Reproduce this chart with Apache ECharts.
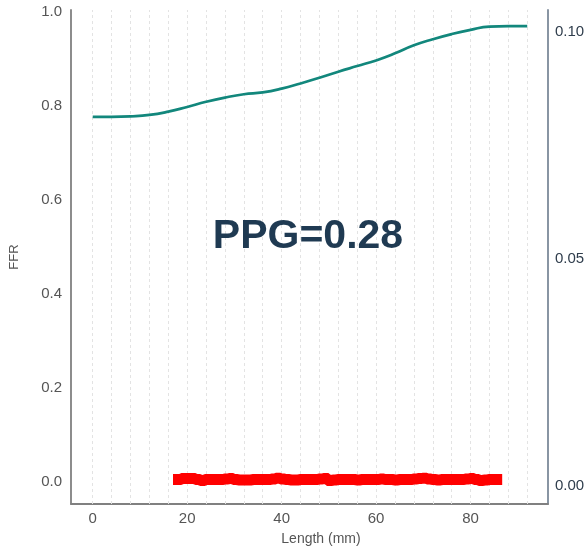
<!DOCTYPE html>
<html>
<head>
<meta charset="utf-8">
<script src="https://cdn.jsdelivr.net/npm/echarts@6/dist/echarts.min.js"></script>
<style>
  html, body { margin: 0; padding: 0; background: #fff; }
  #chart { width: 588px; height: 551px; }
</style>
</head>
<body>
<div id="chart"></div>
<script>
// FFR pullback along the vessel (mm), sampled every 4 mm
const lengthMm = [0, 4, 8, 12, 16, 20, 24, 28, 32, 36, 40, 44, 48, 52, 56, 60, 64, 68, 72, 76, 80, 84, 88, 92];
const ffr = [0.777, 0.777, 0.778, 0.781, 0.788, 0.798, 0.809, 0.818, 0.825, 0.829, 0.837, 0.848,
             0.860, 0.873, 0.885, 0.897, 0.912, 0.929, 0.942, 0.953, 0.962, 0.969, 0.970, 0.970];

// Pressure gradient per mm (right axis)
const gradX = [17, 18, 19, 20, 21, 22, 23, 24, 25, 26, 27, 28, 29, 30, 31, 32, 33, 34, 35, 36, 37, 38,
               39, 40, 41, 42, 43, 44, 45, 46, 47, 48, 49, 50, 51, 52, 53, 54, 55, 56, 57, 58, 59, 60,
               61, 62, 63, 64, 65, 66, 67, 68, 69, 70, 71, 72, 73, 74, 75, 76, 77, 78, 79, 80, 81, 82,
               83, 84, 85, 86, 86.7];
const gradY = [0.0013, 0.0013, 0.0015, 0.0015, 0.0015, 0.0013, 0.0011, 0.0013, 0.0013, 0.0013, 0.0013,
               0.0014, 0.0015, 0.0013, 0.0012, 0.0012, 0.0012, 0.0013, 0.0013, 0.0013, 0.0013, 0.0014,
               0.0016, 0.0014, 0.0013, 0.0012, 0.0012, 0.0013, 0.0013, 0.0013, 0.0013, 0.0014, 0.0015,
               0.0011, 0.0012, 0.0013, 0.0013, 0.0013, 0.0013, 0.0012, 0.0013, 0.0013, 0.0013, 0.0013,
               0.0014, 0.0013, 0.0013, 0.0012, 0.0013, 0.0013, 0.0013, 0.0014, 0.0015, 0.0016, 0.0014,
               0.0013, 0.0012, 0.0013, 0.0013, 0.0013, 0.0013, 0.0013, 0.0014, 0.0015, 0.0013, 0.0011,
               0.0012, 0.0013, 0.0013, 0.0013, 0.0013];

// Tick labels
const xTicks = [0, 20, 40, 60, 80];
const ffrTicks = [0, 0.2, 0.4, 0.6, 0.8, 1.0];
const gradTicks = [0, 0.05, 0.10];
const ppgText = 'PPG=0.28';

const FONT = '"Liberation Sans", Arial, sans-serif';

const chart = echarts.init(document.getElementById('chart'), null, { renderer: 'canvas' });

chart.setOption({
  animation: false,
  backgroundColor: '#ffffff',
  grid: { left: 71, right: 40, top: 10, bottom: 43, containLabel: false },
  xAxis: {
    type: 'value',
    min: -4.6,
    max: 96.4,
    name: 'Length (mm)',
    nameLocation: 'middle',
    nameGap: 28,
    nameTextStyle: { fontFamily: FONT, fontSize: 14, color: '#555', padding: [0, 0, 0, 23] },
    axisLine: { show: true, onZero: false, lineStyle: { color: '#808080', width: 1.8 } },
    axisTick: { show: false },
    axisLabel: {
      customValues: xTicks,
      fontFamily: FONT, fontSize: 15, color: '#555', margin: 7
    },
    splitLine: { show: false }
  },
  yAxis: [
    {
      type: 'value',
      min: -0.0464,
      max: 1.0042,
      position: 'left',
      name: 'FFR',
      nameLocation: 'middle',
      nameRotate: 90,
      nameGap: 50,
      nameTextStyle: { fontFamily: FONT, fontSize: 13, color: '#555' },
      axisLine: { show: true, onZero: false, lineStyle: { color: '#808080', width: 1.8 } },
      axisTick: { show: false },
      axisLabel: {
        customValues: ffrTicks,
        formatter: v => v.toFixed(1),
        fontFamily: FONT, fontSize: 15, color: '#555', margin: 9
      },
      splitLine: { show: false }
    },
    {
      type: 'value',
      min: -0.0041,
      max: 0.1049,
      position: 'right',
      axisLine: { show: true, onZero: false, lineStyle: { color: '#7c8a99', width: 1.8 } },
      axisTick: { show: false },
      axisLabel: {
        customValues: gradTicks,
        formatter: v => v.toFixed(2),
        fontFamily: FONT, fontSize: 15, color: '#2f3d4c', margin: 7
      },
      splitLine: { show: false }
    }
  ],
  graphic: [
    {
      type: 'text',
      x: 308,
      y: 237,
      style: {
        text: ppgText,
        font: 'bold 41px ' + FONT,
        fill: '#1f3a52',
        textAlign: 'center',
        textVerticalAlign: 'middle'
      },
      z: 10
    }
  ],
  series: [
    {
      // vertical dashed guides at each sampling position
      name: 'guides',
      type: 'line',
      yAxisIndex: 0,
      data: [],
      silent: true,
      z: 1,
      markLine: {
        silent: true,
        z: 1,
        symbol: ['none', 'none'],
        label: { show: false },
        emphasis: { disabled: true },
        lineStyle: { color: '#e3e3e3', type: [3, 3], width: 1 },
        data: lengthMm.map(x => ({ xAxis: x }))
      }
    },
    {
      name: 'FFR',
      type: 'line',
      yAxisIndex: 0,
      data: lengthMm.map((x, i) => [x, ffr[i]]),
      smooth: 0.5,
      showSymbol: false,
      lineStyle: { color: '#12877c', width: 2.7 },
      z: 3
    },
    {
      name: 'Gradient',
      type: 'line',
      yAxisIndex: 1,
      data: gradX.map((x, i) => [x, gradY[i]]),
      step: 'middle',
      showSymbol: false,
      lineStyle: { color: '#ff0000', width: 11, cap: 'butt', join: 'miter' },
      z: 2
    }
  ]
});
</script>
</body>
</html>
